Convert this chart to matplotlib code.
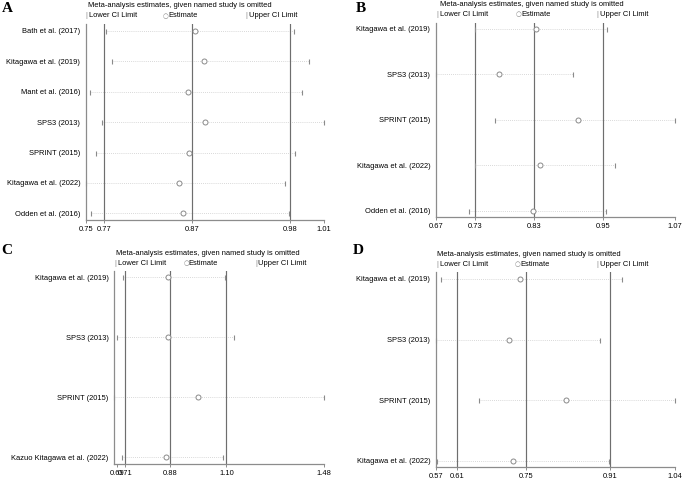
import matplotlib
matplotlib.use("Agg")
import matplotlib.pyplot as plt

W, H = 685, 482

# ---------------- data ----------------
a_studies = ["Bath et al. (2017)", "Kitagawa et al. (2019)", "Mant et al. (2016)",
             "SPS3 (2013)", "SPRINT (2015)", "Kitagawa et al. (2022)", "Odden et al. (2016)"]
a_lower = [0.769, 0.775, 0.751, 0.764, 0.758, 0.746, 0.752]
a_est = [0.868, 0.879, 0.861, 0.880, 0.862, 0.850, 0.855]
a_upper = [0.979, 0.996, 0.988, 1.013, 0.980, 0.969, 0.974]
a_ticks = [0.746, 0.767, 0.865, 0.975, 1.013]
a_ticklabels = ["0.75", "0.77", "0.87", "0.98", "1.01"]
a_overall = [0.767, 0.865, 0.975]

b_studies = ["Kitagawa et al. (2019)", "SPS3 (2013)", "SPRINT (2015)",
             "Kitagawa et al. (2022)", "Odden et al. (2016)"]
b_lower = [0.732, 0.665, 0.766, 0.732, 0.722]
b_est = [0.837, 0.774, 0.908, 0.843, 0.831]
b_upper = [0.958, 0.899, 1.074, 0.972, 0.956]
b_ticks = [0.665, 0.732, 0.833, 0.951, 1.074]
b_ticklabels = ["0.67", "0.73", "0.83", "0.95", "1.07"]
b_overall = [0.732, 0.833, 0.951]

c_studies = ["Kitagawa et al. (2019)", "SPS3 (2013)", "SPRINT (2015)",
             "Kazuo Kitagawa et al. (2022)"]
c_lower = [0.712, 0.690, 0.679, 0.707]
c_est = [0.885, 0.885, 1.001, 0.877]
c_upper = [1.103, 1.135, 1.481, 1.093]
c_ticks = [0.690, 0.7194, 0.8926, 1.108, 1.481]
c_ticklabels = ["0.69", "0.71", "0.88", "1.10", "1.48"]
c_overall = [0.7194, 0.8926, 1.108]

d_studies = ["Kitagawa et al. (2019)", "SPS3 (2013)", "SPRINT (2015)",
             "Kitagawa et al. (2022)"]
d_lower = [0.5804, 0.570, 0.6545, 0.5731]
d_est = [0.7362, 0.714, 0.8254, 0.7218]
d_upper = [0.9353, 0.8933, 1.040, 0.911]
d_ticks = [0.570, 0.6112, 0.7474, 0.913, 1.040]
d_ticklabels = ["0.57", "0.61", "0.75", "0.91", "1.04"]
d_overall = [0.6112, 0.7474, 0.913]

TITLE = "Meta-analysis estimates, given named study is omitted"

# ---------------- layout (pixel boxes) ----------------
panels = [
    dict(letter="A", studies=a_studies, lower=a_lower, est=a_est, upper=a_upper,
         ticks=a_ticks, labels=a_ticklabels, overall=a_overall,
         box=(85.7, 24, 324, 220), ylim=(6.22, -0.23),
         letter_xy=(1.5, 8), title_xy=(87.7, 5.7), leg_y=15.7, leg_x=(85.7, 163, 245.7)),
    dict(letter="B", studies=b_studies, lower=b_lower, est=b_est, upper=b_upper,
         ticks=b_ticks, labels=b_ticklabels, overall=b_overall,
         box=(435.7, 22.7, 675, 217.3), ylim=(4.14, -0.13),
         letter_xy=(355.5, 9), title_xy=(440, 5), leg_y=14, leg_x=(436.7, 515.7, 596.7)),
    dict(letter="C", studies=c_studies, lower=c_lower, est=c_est, upper=c_upper,
         ticks=c_ticks, labels=c_ticklabels, overall=c_overall,
         box=(114.3, 271, 324, 464), ylim=(3.11, -0.105),
         letter_xy=(1.5, 250), title_xy=(116, 253.3), leg_y=263.3, leg_x=(114.3, 183.3, 255)),
    dict(letter="D", studies=d_studies, lower=d_lower, est=d_est, upper=d_upper,
         ticks=d_ticks, labels=d_ticklabels, overall=d_overall,
         box=(435.7, 271.7, 675, 467), ylim=(3.1, -0.12),
         letter_xy=(353, 250), title_xy=(437.3, 254.7), leg_y=264, leg_x=(436.7, 514.7, 596)),
]

FONT = "Liberation Sans"
FS = 5.4
MARK = "#8a8a8a"
REF = "#6e6e6e"
AXC = "#8c8c8c"

fig = plt.figure(figsize=(W / 100, H / 100), dpi=100)
fig.patch.set_facecolor("white")


def fx(x):
    return x / W


def fy(y):
    return 1 - y / H


for p in panels:
    x0, y0, x1, y1 = p["box"]
    ax = fig.add_axes([fx(x0), fy(y1), (x1 - x0) / W, (y1 - y0) / H])
    n = len(p["studies"])
    rows = list(range(n))
    ax.set_xlim(min(p["lower"]), max(p["upper"]))
    ax.set_ylim(*p["ylim"])
    # dotted CI ranges
    for i in rows:
        ax.plot([p["lower"][i], p["upper"][i]], [i, i], linestyle=(0, (1, 1.5)),
                color="#cccccc", lw=0.6, zorder=1, clip_on=False)
    # overall reference lines
    for v in p["overall"]:
        ax.axvline(v, color=REF, lw=0.85, zorder=2)
    ax.plot(p["lower"], rows, linestyle="none", marker="|", markersize=3.6,
            markeredgewidth=0.8, color=MARK, zorder=3, clip_on=False)
    ax.plot(p["upper"], rows, linestyle="none", marker="|", markersize=3.6,
            markeredgewidth=0.8, color=MARK, zorder=3, clip_on=False)
    ax.plot(p["est"], rows, linestyle="none", marker="o", markersize=3.6,
            markerfacecolor="white", markeredgecolor=MARK, markeredgewidth=0.7,
            zorder=4, clip_on=False)
    ax.set_yticks(rows)
    ax.set_yticklabels(p["studies"], fontsize=FS, family=FONT)
    ax.set_xticks(p["ticks"])
    ax.set_xticklabels(p["labels"], fontsize=FS, family=FONT)
    ax.tick_params(axis="y", length=0, pad=4)
    ax.tick_params(axis="x", length=2, width=0.7, color=AXC, pad=2.3)
    for s in ["top", "right"]:
        ax.spines[s].set_visible(False)
    for s in ["left", "bottom"]:
        ax.spines[s].set_color(AXC)
        ax.spines[s].set_linewidth(0.9)
        ax.spines[s].set_zorder(5)
    ax.set_facecolor("none")

    # panel letter
    lx, ly = p["letter_xy"]
    fig.text(fx(lx), fy(ly), p["letter"], fontsize=11, fontweight="bold",
             family="Liberation Serif", ha="left", va="center")
    # title
    tx, ty = p["title_xy"]
    fig.text(fx(tx), fy(ty), TITLE, fontsize=FS, family=FONT, ha="left", va="center")
    # legend
    lx1, lx2, lx3 = p["leg_x"]
    ly = p["leg_y"]
    fig.text(fx(lx1), fy(ly), "|", fontsize=FS, family=FONT, color=MARK, ha="left", va="center")
    fig.text(fx(lx1 + 3.5), fy(ly), "Lower CI Limit", fontsize=FS, family=FONT, ha="left", va="center")
    fig.text(fx(lx2), fy(ly), "\u25cb", fontsize=FS - 0.6, family=["DejaVu Sans"], color=MARK,
             ha="left", va="center")
    fig.text(fx(lx2 + 5.5), fy(ly), "Estimate", fontsize=FS, family=FONT, ha="left", va="center")
    fig.text(fx(lx3), fy(ly), "|", fontsize=FS, family=FONT, color=MARK, ha="left", va="center")
    fig.text(fx(lx3 + 3.5), fy(ly), "Upper CI Limit", fontsize=FS, family=FONT, ha="left", va="center")

fig.savefig("out.png", dpi=100)
